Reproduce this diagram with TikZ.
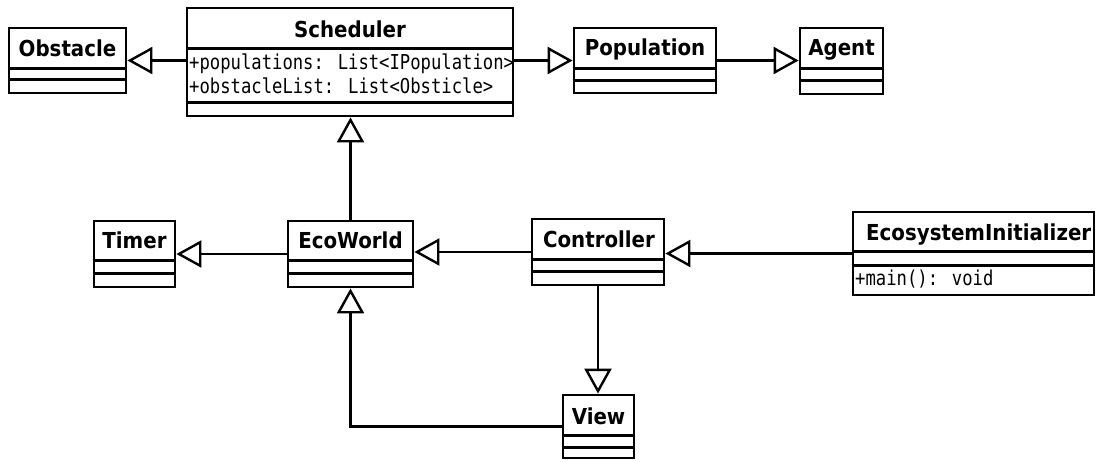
\documentclass[tikz,border=0pt]{standalone}
\usepackage{fontspec}
\newfontfamily\titlefont[FakeStretch=0.9]{DejaVu Sans}
\newfontfamily\membfont[FakeStretch=0.84]{DejaVu Sans Mono}
\usetikzlibrary{arrows.meta}

\begin{document}
\begin{tikzpicture}[x=1pt, y=-1pt,
  box/.style={draw=black, line width=2.8pt, inner sep=0pt, fill=white},
  title/.style={font=\titlefont\bfseries\fontsize{22}{26}\selectfont, inner sep=0pt, anchor=base},
  member/.style={font=\membfont\fontsize{20.5}{24}\selectfont, inner sep=0pt, anchor=base west},
  compart/.style={draw=black, line width=2.8pt},
  inherit/.style={draw=black, line width=2.6pt,
    -{Triangle[open, length=25pt, width=27pt, line width=2.4pt]}}]

  % canvas
  \fill[white] (0,0) rectangle (1097,461);
  \useasboundingbox (0,0) rectangle (1097,461);

  % class boxes
  \node[box, minimum width=117pt, minimum height=65pt] (obst)  at (67.5,60.5) {};
  \node[box, minimum width=326pt, minimum height=108pt] (sched) at (350,62) {};
  \node[box, minimum width=142pt, minimum height=65pt] (pop)   at (645,60.5) {};
  \node[box, minimum width=83pt,  minimum height=66pt] (agent) at (841.5,61) {};
  \node[box, minimum width=81pt,  minimum height=66pt] (timer) at (134.5,254) {};
  \node[box, minimum width=125pt, minimum height=66pt] (eco)   at (350.5,254) {};
  \node[box, minimum width=132pt, minimum height=66pt] (ctrl)  at (598,252) {};
  \node[box, minimum width=241pt, minimum height=83pt] (einit) at (973.5,253.5) {};
  \node[box, minimum width=71pt,  minimum height=63pt] (view)  at (598.5,426.5) {};

  % compartment separators (offsets below each box's top edge)
  \foreach \n/\a/\b in {obst/42/53, sched/42/96, pop/42/54, agent/42/54,
                        timer/41/54, eco/41/54, ctrl/42/54, einit/41/55, view/42/54} {
    \draw[compart] ([yshift=-\a pt]\n.north west) -- ([yshift=-\a pt]\n.north east);
    \draw[compart] ([yshift=-\b pt]\n.north west) -- ([yshift=-\b pt]\n.north east);
  }

  % class names
  \node[title] (obstT)  at (67.5,56)  {Obstacle};
  \node[title] (schedT) at (350,37)   {Scheduler};
  \node[title] (popT)   at (645,55)   {Population};
  \node[title] (agentT) at (841.5,55) {Agent};
  \node[title] (timerT) at (134.5,248) {Timer};
  \node[title] (ecoT)   at (350.5,248) {EcoWorld};
  \node[title] (ctrlT)  at (599,247)  {Controller};
  \node[title, anchor=base west] (einitT) at (866,240) {EcosystemInitializer};
  \node[title] (viewT)  at (598.5,424) {View};

  % members
  \node[member] (attrA) at (189,69) {+populations: List<IPopulation>};
  \node[member] (attrB) at (189,93) {+obstacleList: List<Obsticle>};
  \node[member] (opMain) at (855,285) {+main(): void};

  % generalisations
  \draw[inherit] (sched.west |- obst.east) -- (obst.east);
  \draw[inherit] (sched.east |- pop.west) -- (pop.west);
  \draw[inherit] (pop.east) -- (pop.east -| agent.west);
  \draw[inherit] (eco.north) -- (eco.north |- sched.south);
  \draw[inherit] (eco.west) -- (eco.west -| timer.east);
  \draw[inherit] (ctrl.west) -- (ctrl.west -| eco.east);
  \draw[inherit] (einit.west) -- (einit.west -| ctrl.east);
  \draw[inherit] (ctrl.south) -- (ctrl.south |- view.north);
  \draw[inherit] (view.west) -- (view.west -| eco.south) -- (eco.south);
\end{tikzpicture}
\end{document}
